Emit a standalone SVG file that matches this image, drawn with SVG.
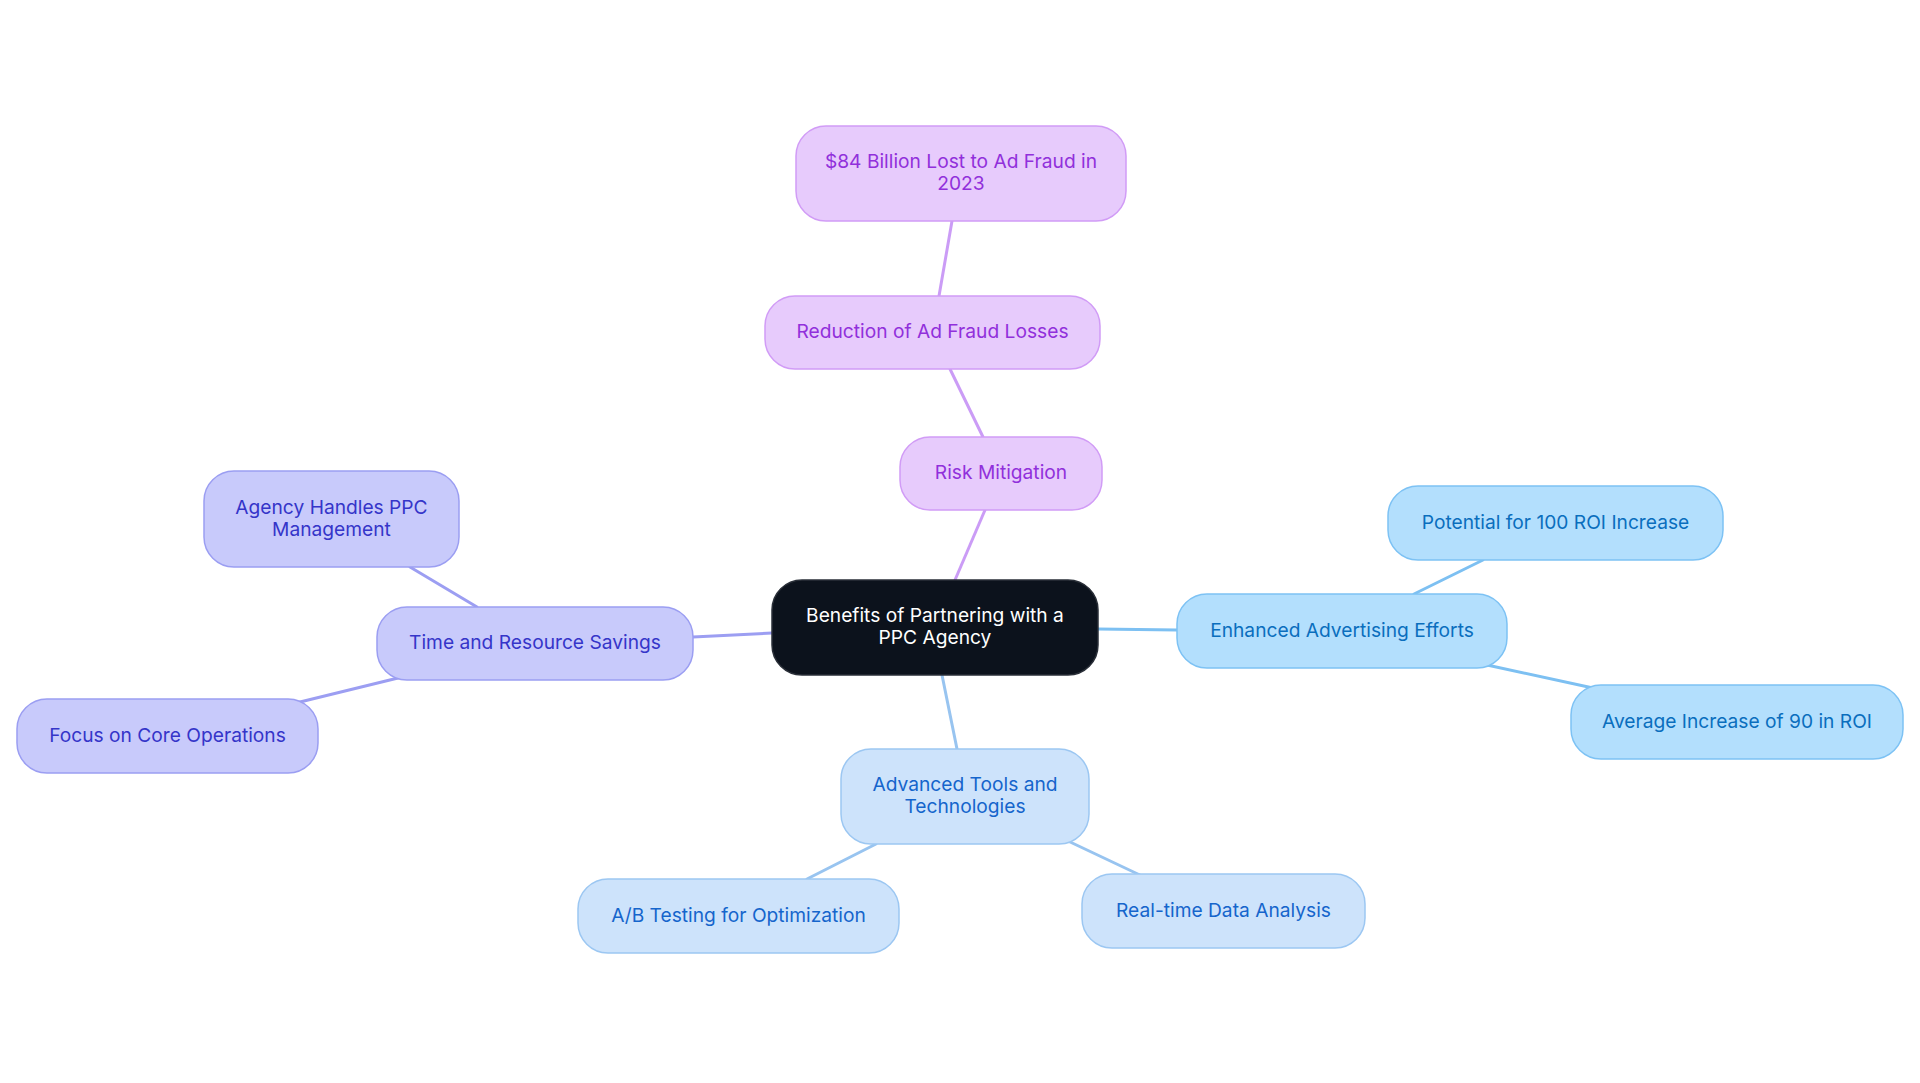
<svg xmlns="http://www.w3.org/2000/svg" width="1920" height="1083" viewBox="0 0 1920 1083">
<style>
text{font-family:Inter,"Noto Sans","Liberation Sans",sans-serif;font-size:19.2px;text-anchor:middle}
.c rect{fill:#0C121C;stroke:#2A2F38;stroke-width:1.5}
.c text{fill:#FFFFFF}
.p rect{fill:#E7CBFC;stroke:#D19CF6;stroke-width:1.5}
.p text{fill:#9130DB}
.b rect{fill:#B3DFFD;stroke:#7DC2F4;stroke-width:1.5}
.b text{fill:#0A6EBD}
.l rect{fill:#CDE3FB;stroke:#9CC7F2;stroke-width:1.5}
.l text{fill:#1565CC}
.i rect{fill:#C8CAFB;stroke:#9B9EF2;stroke-width:1.5}
.i text{fill:#3535C9}
#edges line{stroke-width:3;stroke-linecap:round}
.ep{stroke:#CB9CF6}.eb{stroke:#7DC0F2}.el{stroke:#98C4F0}.ei{stroke:#9C9EF2}
</style>
<rect width="1920" height="1083" fill="#FFFFFF"/>
<g id="edges">
<line class="ep" x1="955" y1="580" x2="985" y2="510"/>
<line class="ep" x1="983" y1="437" x2="950" y2="369"/>
<line class="ep" x1="939" y1="296" x2="952" y2="221"/>
<line class="eb" x1="1098" y1="629" x2="1177" y2="630"/>
<line class="eb" x1="1414" y1="594" x2="1483" y2="560"/>
<line class="eb" x1="1487" y1="665" x2="1593" y2="688"/>
<line class="el" x1="942" y1="675" x2="957" y2="749"/>
<line class="el" x1="876" y1="844" x2="807" y2="879"/>
<line class="el" x1="1068" y1="841" x2="1142" y2="876"/>
<line class="ei" x1="693" y1="637" x2="772" y2="633"/>
<line class="ei" x1="410" y1="567" x2="477" y2="607"/>
<line class="ei" x1="398" y1="678" x2="300" y2="702"/>
</g>
<g id="center" class="c"><rect x="772" y="580" width="326" height="95" rx="30"/><text x="935" y="622">Benefits of Partnering with a</text><text x="935" y="644">PPC Agency</text></g>
<g id="risk" class="p"><rect x="900" y="437" width="202" height="73" rx="30"/><text x="1001" y="479">Risk Mitigation</text></g>
<g id="reduction" class="p"><rect x="765" y="296" width="335" height="73" rx="30"/><text x="932.5" y="338">Reduction of Ad Fraud Losses</text></g>
<g id="fraud84" class="p"><rect x="796" y="126" width="330" height="95" rx="30"/><text x="961" y="168">$84 Billion Lost to Ad Fraud in</text><text x="961" y="190">2023</text></g>
<g id="enhanced" class="b"><rect x="1177" y="594" width="330" height="74" rx="30"/><text x="1342" y="636.5">Enhanced Advertising Efforts</text></g>
<g id="potential" class="b"><rect x="1388" y="486" width="335" height="74" rx="30"/><text x="1555.5" y="528.5">Potential for 100 ROI Increase</text></g>
<g id="average" class="b"><rect x="1571" y="685" width="332" height="74" rx="30"/><text x="1737" y="727.5">Average Increase of 90 in ROI</text></g>
<g id="advanced" class="l"><rect x="841" y="749" width="248" height="95" rx="30"/><text x="965" y="791">Advanced Tools and</text><text x="965" y="813">Technologies</text></g>
<g id="abtesting" class="l"><rect x="578" y="879" width="321" height="74" rx="30"/><text x="738.5" y="921.5">A/B Testing for Optimization</text></g>
<g id="realtime" class="l"><rect x="1082" y="874" width="283" height="74" rx="30"/><text x="1223.5" y="916.5">Real-time Data Analysis</text></g>
<g id="time" class="i"><rect x="377" y="607" width="316" height="73" rx="30"/><text x="535" y="649">Time and Resource Savings</text></g>
<g id="agency" class="i"><rect x="204" y="471" width="255" height="96" rx="30"/><text x="331.5" y="513.5">Agency Handles PPC</text><text x="331.5" y="535.5">Management</text></g>
<g id="focus" class="i"><rect x="17" y="699" width="301" height="74" rx="30"/><text x="167.5" y="741.5">Focus on Core Operations</text></g>
</svg>
